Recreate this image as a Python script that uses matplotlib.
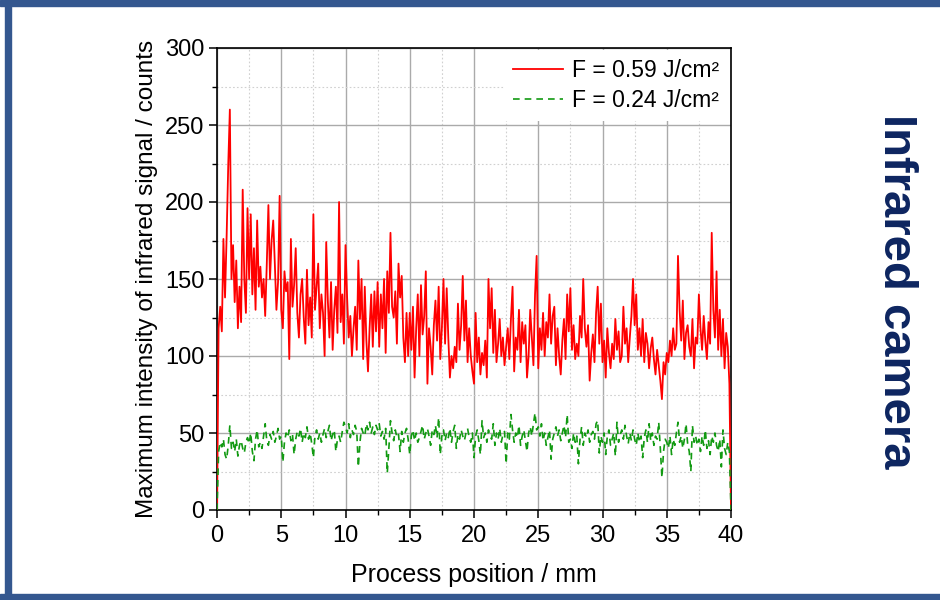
import numpy as np
import matplotlib
matplotlib.use("Agg")
from matplotlib import pyplot as plt
from matplotlib.patches import Rectangle
from matplotlib.ticker import MultipleLocator

# process position in mm, one reading every 0.125 mm
position = np.linspace(0, 40, 321)

# F = 0.59 J/cm2
red_signal = [
    0, 118, 132, 116, 176, 138, 178, 224, 260, 150, 172, 135, 162, 118, 145, 122, 208, 150, 128, 196,
    150, 192, 140, 170, 130, 188, 145, 158, 138, 150, 126, 160, 198, 150, 175, 188, 160, 130, 148, 204,
    130, 118, 155, 142, 148, 98, 176, 132, 146, 170, 128, 112, 140, 150, 125, 108, 156, 120, 138, 112,
    192, 130, 145, 160, 118, 140, 128, 100, 174, 136, 112, 148, 104, 130, 145, 115, 200, 122, 140, 108,
    172, 138, 112, 126, 100, 118, 132, 104, 162, 124, 150, 98, 145, 110, 90, 118, 140, 106, 142, 116,
    148, 106, 140, 118, 150, 102, 155, 128, 180, 132, 125, 142, 108, 160, 138, 152, 112, 96, 128, 100,
    128, 104, 132, 86, 118, 140, 100, 146, 114, 126, 155, 82, 118, 106, 88, 120, 136, 110, 145, 98,
    118, 150, 108, 144, 112, 86, 100, 92, 106, 96, 134, 104, 120, 152, 110, 136, 96, 118, 100, 90,
    82, 128, 96, 112, 88, 102, 94, 110, 86, 150, 118, 144, 102, 130, 96, 108, 124, 100, 112, 94,
    106, 118, 98, 124, 145, 90, 112, 104, 130, 96, 122, 108, 120, 86, 100, 130, 112, 94, 140, 165,
    92, 118, 104, 128, 100, 122, 112, 140, 108, 126, 132, 94, 118, 100, 88, 110, 124, 98, 140, 116,
    144, 104, 120, 98, 108, 100, 126, 112, 150, 118, 106, 120, 84, 102, 114, 96, 128, 145, 108, 134,
    96, 110, 86, 118, 102, 92, 108, 98, 124, 104, 116, 96, 100, 132, 108, 118, 96, 112, 126, 150,
    120, 140, 104, 118, 100, 124, 96, 115, 108, 92, 105, 112, 98, 88, 104, 94, 84, 72, 96, 88,
    102, 96, 110, 100, 118, 104, 108, 165, 130, 110, 136, 98, 115, 120, 106, 100, 124, 92, 112, 108,
    140, 118, 104, 126, 110, 98, 122, 108, 180, 130, 112, 155, 104, 130, 100, 124, 92, 115, 106, 82,
    0,
]

# F = 0.24 J/cm2
green_signal = [
    0, 38, 44, 41, 46, 36, 33, 42, 55, 40, 44, 38, 46, 35, 42, 45, 40, 37, 44, 47,
    43, 50, 38, 32, 46, 52, 41, 44, 40, 48, 56, 45, 42, 49, 46, 51, 44, 48, 53, 46,
    48, 31, 44, 50, 47, 52, 45, 49, 36, 46, 51, 48, 53, 44, 50, 47, 54, 46, 50, 43,
    34, 48, 52, 46, 50, 44, 49, 53, 47, 51, 55, 45, 49, 52, 38, 46, 48, 44, 51, 57,
    54, 50, 56, 47, 52, 49, 55, 51, 28, 44, 53, 50, 48, 56, 52, 57, 50, 54, 49, 55,
    52, 56, 48, 51, 46, 53, 24, 40, 58, 50, 45, 52, 47, 49, 38, 51, 44, 50, 53, 46,
    36, 48, 52, 45, 50, 44, 47, 51, 55, 46, 50, 53, 48, 42, 52, 49, 55, 47, 60, 36,
    48, 52, 45, 50, 47, 53, 44, 51, 55, 40, 49, 46, 52, 48, 45, 50, 53, 47, 44, 50,
    34, 48, 52, 45, 36, 58, 47, 50, 44, 52, 48, 46, 56, 42, 50, 46, 53, 44, 49, 51,
    30, 50, 46, 62, 52, 44, 50, 47, 55, 42, 48, 52, 45, 38, 50, 54, 48, 56, 63, 52,
    54, 48, 56, 45, 50, 42, 47, 52, 33, 46, 50, 54, 48, 52, 45, 50, 55, 47, 62, 44,
    46, 40, 50, 44, 48, 30, 46, 54, 42, 50, 47, 52, 44, 49, 51, 46, 56, 58, 37, 48,
    44, 50, 36, 48, 52, 42, 46, 50, 35, 57, 44, 49, 52, 46, 55, 48, 43, 50, 45, 52,
    46, 42, 50, 44, 48, 34, 47, 52, 44, 56, 45, 50, 42, 48, 46, 57, 40, 21, 38, 46,
    44, 40, 48, 36, 46, 42, 50, 57, 44, 48, 40, 46, 56, 43, 38, 25, 55, 44, 48, 42,
    46, 38, 48, 42, 52, 40, 45, 36, 48, 44, 50, 42, 38, 46, 28, 52, 40, 36, 44, 38,
    0,
]

labels = ["F = 0.59 J/cm²", "F = 0.24 J/cm²"]

plt.rcParams["font.family"] = ["Liberation Sans", "DejaVu Sans"]

fig = plt.figure(figsize=(9.4, 6), dpi=100)
fig.patch.set_facecolor("white")

# blue slide frame
frame_blue = "#34578f"
fig.patches.append(Rectangle((0, 594 / 600), 1, 6 / 600, transform=fig.transFigure, color=frame_blue, zorder=0))
fig.patches.append(Rectangle((0, 0), 1, 6 / 600, transform=fig.transFigure, color=frame_blue, zorder=0))
fig.patches.append(Rectangle((5 / 940, 0), 6 / 940, 1, transform=fig.transFigure, color=frame_blue, zorder=0))

ax = fig.add_axes([217 / 940, 90 / 600, 514 / 940, 462 / 600])

ax.plot(position, red_signal, color="#ff0000", lw=1.3, label=labels[0], zorder=3)
ax.plot(position, green_signal, color="#129a12", lw=1.2, dashes=(4, 3), label=labels[1], zorder=3)

ax.set_xlim(0, 40)
ax.set_ylim(0, 300)
ax.xaxis.set_major_locator(MultipleLocator(5))
ax.xaxis.set_minor_locator(MultipleLocator(2.5))
ax.yaxis.set_major_locator(MultipleLocator(50))
ax.yaxis.set_minor_locator(MultipleLocator(25))

ax.grid(which="major", color="#aaaaaa", lw=1.0, zorder=0)
ax.grid(which="minor", color="#d0d0d0", lw=0.8, ls=(0, (1.5, 2)), zorder=0)
ax.set_axisbelow(True)

ax.tick_params(which="major", direction="out", length=6, width=1.1, labelsize=17, pad=3)
ax.tick_params(which="minor", direction="out", length=3.5, width=1.0)
ax.tick_params(axis="x", which="major", pad=5)
for s in ax.spines.values():
    s.set_linewidth(1.2)
    s.set_color("black")

ax.set_xlabel("Process position / mm", fontsize=18, labelpad=11)
ax.set_ylabel("Maximum intensity of infrared signal / counts", fontsize=17.5, labelpad=5)

leg = ax.legend(loc="upper right", fontsize=16.5, frameon=True, fancybox=False,
                edgecolor="none", facecolor="white", framealpha=1,
                handlelength=2.2, handletextpad=0.4, borderaxespad=0.1, labelspacing=0.3)
leg.set_zorder(5)

# side title, centred about 291 px from the top
fig.text(896 / 940, 309 / 600, "Infrared camera", rotation=-90, fontsize=34,
         fontweight="bold", color="#0d2560", ha="center", va="center")

fig.savefig("out.png", dpi=100)
